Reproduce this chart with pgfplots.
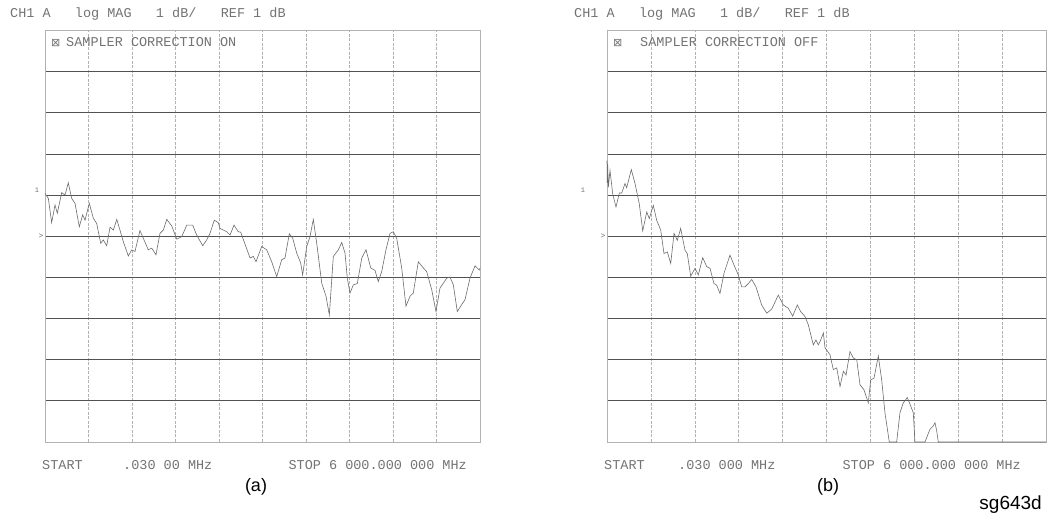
\documentclass[border=0pt]{standalone}
\usepackage{pgfplots}
\pgfplotsset{compat=1.18}
\usepackage{fontspec}
\setmainfont{Liberation Sans}
\newfontfamily\mono{Liberation Mono}
\newfontfamily\dejavu{DejaVu Sans}
\definecolor{txt}{gray}{0.45}
\definecolor{trace}{gray}{0.42}
\pgfplotsset{
  scope/.style={
    scale only axis, height=411.5bp,
    xmin=0, xmax=6000, ymin=-4, ymax=6,
    xtick={0,600,...,6000}, ytick={-4,-3,...,6},
    xticklabels={}, yticklabels={},
    major tick length=0pt,
    grid=major,
    major x grid style={gray!60, line width=0.5bp, dash pattern=on 3bp off 1.5bp},
    major y grid style={black!68, line width=0.7bp},
    axis line style={gray!60, line width=0.5bp},
    clip=false,
  },
  trc/.style={trace, line width=0.6bp, mark=none},
}
\begin{document}
\begin{tikzpicture}
\useasboundingbox (0,0) rectangle (1048bp,517bp);
% ---------------- (a) ----------------
\begin{axis}[scope, at={(45bp,75bp)}, anchor=south west, width=435bp]
\addplot[trc] coordinates {(0,2.04)(46,1.92)(92,1.33)(138,1.76)(170,1.56)(230,2.06)(276,2.00)(321,2.30)(368,1.92)(414,1.80)(473,1.23)(520,1.52)(552,1.39)(611,1.80)(666,1.44)(713,1.31)(768,0.83)(804,0.91)(851,0.77)(897,1.22)(943,1.15)(990,1.41)(1034,1.15)(1080,0.87)(1149,0.52)(1196,0.67)(1241,0.63)(1310,1.14)(1356,0.95)(1425,0.67)(1472,0.71)(1531,0.55)(1586,1.07)(1632,1.15)(1679,1.41)(1748,1.25)(1817,0.93)(1886,0.99)(1955,1.27)(2037,1.27)(2092,1.03)(2175,0.77)(2230,0.91)(2276,1.07)(2335,1.39)(2390,1.33)(2414,1.19)(2506,1.11)(2552,1.03)(2607,1.27)(2666,1.11)(2699,1.10)(2759,0.81)(2828,0.47)(2873,0.51)(2910,0.38)(2989,0.75)(3058,0.67)(3127,0.38)(3196,0.02)(3265,0.43)(3310,0.47)(3370,1.06)(3417,0.95)(3472,0.59)(3527,0.35)(3554,0.06)(3610,0.75)(3655,0.99)(3701,1.41)(3748,0.83)(3817,-0.14)(3876,-0.46)(3922,-0.91)(3977,0.51)(4046,0.67)(4093,0.85)(4138,0.59)(4170,-0.02)(4207,-0.38)(4253,-0.18)(4308,-0.15)(4369,0.47)(4428,0.67)(4493,0.23)(4552,0.17)(4597,-0.10)(4644,0.14)(4703,0.67)(4759,1.07)(4804,1.11)(4851,0.95)(4920,0.23)(4979,-0.70)(5034,-0.46)(5080,-0.38)(5149,0.38)(5218,0.23)(5265,0.14)(5334,-0.30)(5393,-0.83)(5448,-0.26)(5541,-0.02)(5586,0.01)(5632,-0.18)(5687,-0.83)(5748,-0.66)(5793,-0.54)(5862,-0.02)(5931,0.28)(5990,0.18)(6000,0.22)};
\end{axis}
% ---------------- (b) ----------------
\begin{axis}[scope, at={(607bp,75bp)}, anchor=south west, width=439bp]
\addplot[trc] coordinates {(0,2.84)(4,2.30)(9,2.75)(18,2.19)(41,2.60)(78,2.03)(123,1.71)(168,2.05)(201,2.05)(246,2.28)(269,2.18)(332,2.62)(383,2.28)(441,1.79)(488,1.13)(543,1.59)(578,1.43)(633,1.75)(679,1.39)(734,1.15)(779,0.58)(824,0.62)(871,0.34)(916,1.07)(961,0.90)(1007,1.19)(1066,0.66)(1097,0.58)(1144,0.03)(1203,0.22)(1248,0.06)(1308,0.48)(1363,0.26)(1408,0.22)(1462,-0.15)(1499,-0.19)(1544,-0.39)(1599,0.10)(1681,0.54)(1736,0.30)(1794,0.06)(1841,-0.23)(1886,-0.23)(1931,-0.15)(1978,-0.05)(2036,-0.23)(2114,-0.67)(2183,-0.87)(2251,-0.77)(2341,-0.43)(2410,-0.67)(2478,-0.75)(2538,-0.94)(2601,-0.67)(2647,-0.83)(2706,-0.95)(2751,-1.15)(2820,-1.64)(2856,-1.52)(2888,-1.64)(2921,-1.52)(2957,-1.35)(2980,-1.71)(3048,-1.88)(3093,-2.24)(3140,-2.20)(3185,-2.65)(3230,-2.28)(3267,-2.37)(3321,-1.80)(3367,-1.96)(3413,-2.00)(3458,-2.61)(3512,-2.73)(3571,-3.05)(3604,-2.49)(3649,-2.45)(3708,-1.91)(3754,-2.49)(3799,-3.29)(3858,-4.00)(3959,-4.00)(4004,-3.29)(4049,-3.05)(4104,-2.92)(4141,-3.08)(4186,-3.29)(4209,-4.00)(4346,-4.00)(4414,-3.69)(4459,-3.61)(4483,-3.53)(4506,-3.73)(4528,-4.00)(6000,-4.00)};
\end{axis}
% ---------------- texts ----------------
\begin{scope}[every node/.style={text=txt, inner sep=0pt, font=\mono\fontsize{13.5bp}{15bp}\selectfont}]
\node[anchor=base west] at (10bp,499.5bp) {CH1 A\ \ \ log MAG\ \ \ 1 dB/\ \ \ REF 1 dB};
\node[anchor=base west] at (574bp,499.5bp) {CH1 A\ \ \ log MAG\ \ \ 1 dB/\ \ \ REF 1 dB};
\node[anchor=base west] at (66bp,470bp) {SAMPLER CORRECTION ON};
\node[anchor=base west] at (640bp,470bp) {SAMPLER CORRECTION OFF};
\node[anchor=base west] at (42bp,47bp) {START};
\node[anchor=base west] at (123bp,47bp) {.030 00 MHz};
\node[anchor=base east] at (467bp,47bp) {STOP 6 000.000 000 MHz};
\node[anchor=base west] at (604bp,47bp) {START};
\node[anchor=base west] at (678bp,47bp) {.030 000 MHz};
\node[anchor=base east] at (1021bp,47bp) {STOP 6 000.000 000 MHz};
\end{scope}
\begin{scope}[every node/.style={text=txt, inner sep=0pt}]
\node[font=\dejavu\fontsize{11bp}{12bp}\selectfont, anchor=base west] at (51bp,470bp) {⊠};
\node[font=\dejavu\fontsize{11bp}{12bp}\selectfont, anchor=base west] at (613bp,470bp) {⊠};
\node[font=\mono\fontsize{7bp}{8bp}\selectfont] at (37bp,327bp) {1};
\node[font=\mono\fontsize{7bp}{8bp}\selectfont] at (583bp,327bp) {1};
\node[font=\mono\fontsize{8bp}{8bp}\selectfont] at (41bp,281bp) {>};
\node[font=\mono\fontsize{8bp}{8bp}\selectfont] at (603bp,281bp) {>};
\end{scope}
\node[anchor=base, inner sep=0pt, font=\fontsize{18bp}{20bp}\selectfont] at (256bp,26bp) {(a)};
\node[anchor=base, inner sep=0pt, font=\fontsize{18bp}{20bp}\selectfont] at (828bp,26bp) {(b)};
\node[anchor=base east, inner sep=0pt, font=\fontsize{19bp}{21bp}\selectfont] at (1042bp,8bp) {sg643d};
\end{tikzpicture}
\end{document}
